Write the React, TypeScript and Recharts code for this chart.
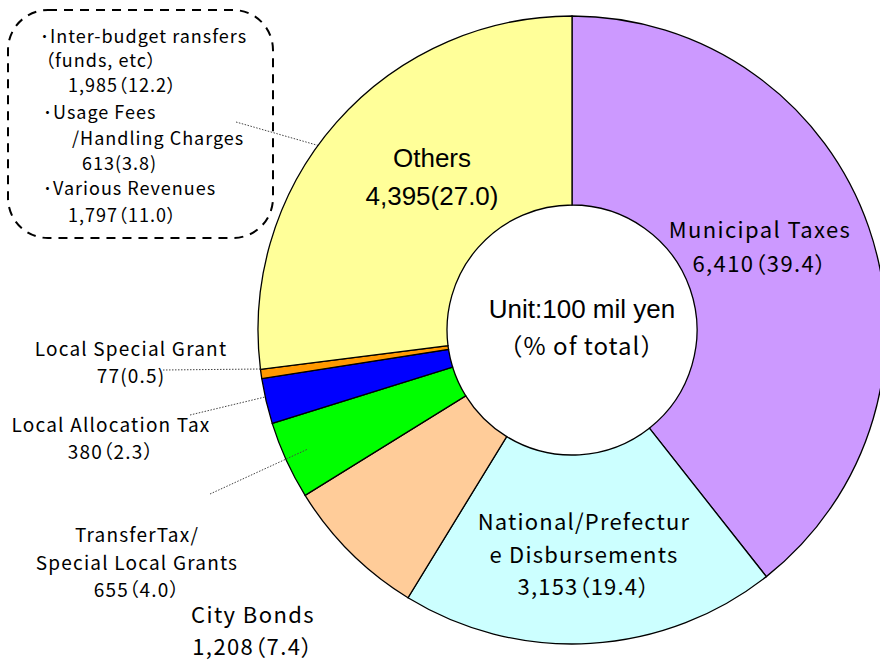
import React from "react";
import { PieChart, Pie, Cell } from "recharts";

// ---- data ----
const categories = [
  "Municipal Taxes",
  "National/Prefecture Disbursements",
  "City Bonds",
  "TransferTax/Special Local Grants",
  "Local Allocation Tax",
  "Local Special Grant",
  "Others",
];
const values = [6410, 3153, 1208, 655, 380, 77, 4395];
const percents = ["39.4", "19.4", "7.4", "4.0", "2.3", "0.5", "27.0"];
const labelLines = [
  ["Municipal Taxes"],
  ["National/Prefectur", "e Disbursements"],
  ["City Bonds"],
  ["TransferTax/", "Special Local Grants"],
  ["Local Allocation Tax"],
  ["Local Special Grant"],
  ["Others"],
];
const colors = ["#CC99FF", "#CCFFFF", "#FFCC99", "#00FF00", "#0000FF", "#FF9900", "#FFFF99"];

const othersBreakdownNames = [
  ["･Inter-budget ransfers", "（funds, etc）"],
  ["･Usage Fees", "/Handling Charges"],
  ["･Various Revenues"],
];
const othersBreakdownValues = [1985, 613, 1797];
const othersBreakdownPercents = ["12.2", "3.8", "11.0"];
const centerTexts = ["Unit:100 mil yen", "（% of total）"];

const data = categories.map((name, i) => ({ name, value: values[i], pct: percents[i] }));

// ---- layout / styles ----
const GOTHIC = "'Noto Sans CJK JP', 'Noto Sans', sans-serif";
const ARIAL = "'Liberation Sans', Arial, sans-serif";
const PALT = { fontFeatureSettings: '"palt"' } as React.CSSProperties;
const fmt = (v: number) => v.toLocaleString("en-US");

type Layout = {
  x: number;
  ys: number[];
  size: number;
  font: string;
  ls: number;
  ascii?: boolean;
  line?: [number, number, number, number];
};
const labelLayout: Layout[] = [
  { x: 760, ys: [238, 272], size: 22, ls: 1.4, font: GOTHIC },
  { x: 584, ys: [530, 563, 595], size: 22, ls: 1.2, font: GOTHIC },
  { x: 253, ys: [623, 655], size: 22, ls: 1.4, font: GOTHIC },
  { x: 137, ys: [542, 570, 597], size: 19, ls: 1.2, font: GOTHIC, line: [210, 494, 308, 449] },
  { x: 111, ys: [432, 459], size: 19, ls: 1.2, font: GOTHIC, line: [190, 415, 265, 397] },
  { x: 131, ys: [356, 383], size: 19, ls: 1.2, font: GOTHIC, ascii: true, line: [163, 370, 262, 369] },
  { x: 432, ys: [167, 205], size: 26, ls: 0, font: ARIAL, ascii: true },
];

const renderLabel = (props: any) => {
  const i = props.index;
  const L = labelLayout[i];
  const lines = [...labelLines[i]];
  lines.push(
    L.ascii ? `${fmt(values[i])}(${percents[i]})` : `${fmt(values[i])}（${percents[i]}）`
  );
  return (
    <g key={`lbl-${i}`}>
      {L.line && (
        <line
          x1={L.line[0]}
          y1={L.line[1]}
          x2={L.line[2]}
          y2={L.line[3]}
          stroke="#444"
          strokeWidth={1}
          strokeDasharray="1.5 1.5"
        />
      )}
      {lines.map((t, k) => (
        <text
          key={k}
          x={L.x}
          y={L.ys[k]}
          textAnchor="middle"
          fontSize={L.size}
          fontFamily={L.font}
          letterSpacing={L.ls}
          style={PALT}
          fill="#000"
        >
          {t}
        </text>
      ))}
    </g>
  );
};

const boxLines: { text: string; x: number; y: number }[] = [];
{
  const ys = [43, 67, 92, 119, 145, 170, 195, 222];
  const xs = [
    [40, 45],
    [43, 72],
    [43],
  ];
  const vx = [68, 82, 68];
  let k = 0;
  othersBreakdownNames.forEach((names, g) => {
    names.forEach((n, j) => {
      boxLines.push({ text: n, x: xs[g][j], y: ys[k++] });
    });
    const v =
      g === 1
        ? `${fmt(othersBreakdownValues[g])}(${othersBreakdownPercents[g]})`
        : `${fmt(othersBreakdownValues[g])}（${othersBreakdownPercents[g]}）`;
    boxLines.push({ text: v, x: vx[g], y: ys[k++] });
  });
}

export default function App() {
  return (
    <div style={{ position: "absolute", left: 0, top: 0, width: 880, height: 660, background: "#fff" }}>
      <PieChart width={880} height={660} margin={{ top: 0, right: 0, bottom: 0, left: 0 }}>
        <Pie
          data={data}
          dataKey="value"
          nameKey="name"
          cx={572}
          cy={330}
          outerRadius={314}
          innerRadius={125}
          startAngle={90}
          endAngle={-270}
          stroke="#000"
          strokeWidth={1.3}
          isAnimationActive={false}
          label={renderLabel}
          labelLine={false}
        >
          {data.map((d, i) => (
            <Cell key={d.name} fill={colors[i]} />
          ))}
        </Pie>
        <g>
          <text x={582} y={318} textAnchor="middle" fontSize={26} fontFamily={ARIAL} fill="#000">
            {centerTexts[0]}
          </text>
          <text x={582} y={355} textAnchor="middle" fontSize={24} fontFamily={GOTHIC} letterSpacing={1} fill="#000">
            {centerTexts[1]}
          </text>
          <rect
            x={8}
            y={10}
            width={265}
            height={228}
            rx={40}
            ry={40}
            fill="none"
            stroke="#000"
            strokeWidth={2}
            strokeDasharray="9 7"
          />
          <line x1={236} y1={122} x2={334} y2={150} stroke="#444" strokeWidth={1} strokeDasharray="1.5 1.5" />
          {boxLines.map((b, i) => (
            <text
              key={i}
              x={b.x}
              y={b.y}
              fontSize={18}
              fontFamily={GOTHIC}
              letterSpacing={1}
              style={PALT}
              fill="#000"
            >
              {b.text}
            </text>
          ))}
        </g>
      </PieChart>
    </div>
  );
}
